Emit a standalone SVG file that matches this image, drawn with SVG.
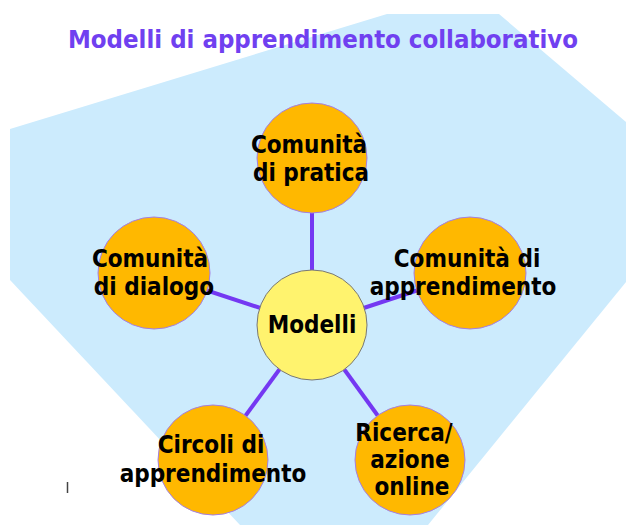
<svg xmlns="http://www.w3.org/2000/svg" width="626" height="525" viewBox="0 0 626 525">
<style>
.bg{fill:#CCEBFD;stroke:none}
.title{font-family:"DejaVu Sans Condensed","DejaVu Sans",sans-serif;font-weight:bold;font-size:25px;fill:#7040F0}
.edge{stroke:#7438F2;stroke-width:4;fill:none}
.outer{fill:#FFB800;stroke:#A27FE6;stroke-width:1}
.hub{fill:#FFF36E;stroke:#777777;stroke-width:1}
.lbl{font-family:"DejaVu Sans Condensed","DejaVu Sans",sans-serif;font-weight:bold;font-size:24px;fill:#000000;text-anchor:middle}
</style>
<rect x="0" y="0" width="626" height="525" fill="#FFFFFF"/>
<polygon class="bg" points="387,14 499,14 626,122 626,282 428,525 240,525 10,280 10,129"/>
<text class="title" x="323" y="48" text-anchor="middle" textLength="510" lengthAdjust="spacingAndGlyphs">Modelli di apprendimento collaborativo</text>
<g id="connectors">
<line class="edge" x1="312" y1="325" x2="312" y2="158"/>
<line class="edge" x1="312" y1="325" x2="154" y2="273"/>
<line class="edge" x1="312" y1="325" x2="470" y2="273"/>
<line class="edge" x1="312" y1="325" x2="213" y2="460"/>
<line class="edge" x1="312" y1="325" x2="410" y2="460"/>
</g>
<g id="node-pratica">
<circle class="outer" cx="312" cy="158" r="55"/>
<text class="lbl" x="309" y="153">Comunità</text>
<text class="lbl" x="311" y="181">di pratica</text>
</g>
<g id="node-dialogo">
<circle class="outer" cx="154" cy="273" r="56"/>
<text class="lbl" x="150" y="267">Comunità</text>
<text class="lbl" x="154" y="295">di dialogo</text>
</g>
<g id="node-apprendimento">
<circle class="outer" cx="470" cy="273" r="56"/>
<text class="lbl" x="467" y="267">Comunità di</text>
<text class="lbl" x="463" y="295">apprendimento</text>
</g>
<g id="node-circoli">
<circle class="outer" cx="213" cy="460" r="55"/>
<text class="lbl" x="211" y="453">Circoli di</text>
<text class="lbl" x="213" y="482">apprendimento</text>
</g>
<g id="node-ricerca">
<circle class="outer" cx="410" cy="460" r="55"/>
<text class="lbl" x="404" y="441">Ricerca/</text>
<text class="lbl" x="410" y="468">azione</text>
<text class="lbl" x="412" y="495">online</text>
</g>
<g id="node-modelli">
<circle class="hub" cx="312" cy="325" r="55"/>
<text class="lbl" x="312" y="333">Modelli</text>
</g>
<line x1="67.5" y1="482" x2="67.5" y2="493" stroke="#444444" stroke-width="1.5"/>
</svg>
